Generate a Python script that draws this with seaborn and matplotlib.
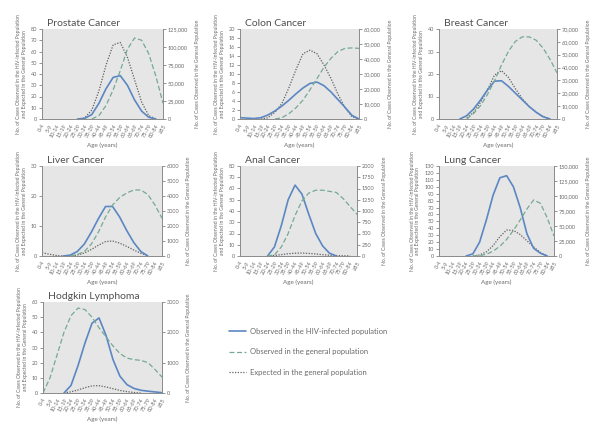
import numpy as np
import pandas as pd
import matplotlib
matplotlib.use("Agg")
import matplotlib.pyplot as plt
import seaborn as sns
from matplotlib.ticker import FuncFormatter, MultipleLocator

sns.set_theme(style="white")
plt.rcParams['font.family'] = ['Lato', 'DejaVu Sans']

age_groups = ["0-4", "5-9", "10-14", "15-19", "20-24", "25-29", "30-34", "35-39",
              "40-44", "45-49", "50-54", "55-59", "60-64", "65-69", "70-74",
              "75-79", "80-84", "\u226585"]
N = np.nan

# Prostate
prostate_hiv = [N, N, N, N, N, 0, 0.5, 4, 14, 27, 37, 38.5, 30, 17, 7, 1.5, 0, N]
prostate_exp = [N, N, N, N, N, 0, 1, 8, 25, 48, 66, 68, 55, 35, 15, 3, 0, N]
prostate_gen = [N, N, N, N, N, N, N, 0, 4700, 18800, 40600, 67200, 96900, 112500,
                109400, 90600, 59400, 21900]
# Colon
colon_hiv = [0.3, 0.2, 0.1, 0.3, 0.9, 1.8, 2.9, 4.2, 5.6, 6.9, 7.9, 8.2, 7.4, 6.0,
             4.3, 2.6, 0.8, 0]
colon_exp = [N, N, N, 0, 0.3, 1.5, 3.5, 7, 11, 14.5, 15.3, 14.5, 12, 9, 5.5, 2.5, 0.5, 0]
colon_gen = [N, N, N, N, N, 0, 900, 3600, 7500, 12600, 19500, 27000, 34500, 40500,
             45000, 47100, 47400, 47100]
# Breast
breast_hiv = [N, N, N, 0, 1.5, 4.5, 8.5, 13, 16.8, 17, 14.5, 11.5, 8.5, 5.5, 3, 1, 0, N]
breast_exp = [N, N, N, N, 0.5, 3, 7.5, 13, 19.5, 21.5, 18.5, 13.5, 9, 5.5, 3, 1, 0, N]
breast_gen = [N, N, N, N, 0, 4375, 10500, 19250, 29750, 42000, 52500, 60375, 63875,
              63875, 61250, 55125, 46375, 35875]
# Liver
liver_hiv = [N, N, N, 0, 0.3, 1.5, 4, 8, 12.5, 16.5, 16.5, 13, 8.5, 4.5, 1.5, 0, N, N]
liver_exp = [1.1, 0.6, 0.2, 0, 0, 0.3, 1, 2.2, 3.6, 4.8, 5, 4.3, 3.2, 2, 0.9, 0.1, N, N]
liver_gen = [N, N, N, N, 0, 100, 300, 800, 1600, 2600, 3400, 3900, 4200, 4400, 4400,
             4100, 3400, 2520]
# Anal
anal_hiv = [N, N, N, N, 0, 8, 27, 50, 63, 55, 37, 20, 9, 2.5, 0, N, N, N]
anal_exp = [N, N, N, N, 0, 0.5, 1.2, 2, 2.5, 2.6, 2.3, 1.8, 1.2, 0.7, 0.4, 0.2, 0.1, N]
anal_gen = [N, N, N, N, 0, 25, 200, 500, 900, 1225, 1400, 1462, 1462, 1437, 1412,
            1275, 1100, 925]
# Lung
lung_hiv = [N, N, N, N, 0, 3, 20, 52, 88, 113, 116, 100, 70, 32, 11, 4, 0, N]
lung_exp = [N, N, N, N, N, 0, 1.5, 6, 15, 28, 37.5, 37, 31, 22, 13, 5, 0, N]
lung_gen = [N, N, N, N, N, 0, 577, 2885, 8077, 16154, 27692, 42692, 60000, 78462,
            93462, 87692, 63462, 33462]
# Hodgkin
hodgkin_hiv = [N, N, N, 0, 5, 18, 33, 46, 49.5, 38, 22, 11, 5.5, 3, 1.8, 1.2, 0.7, 0.2]
hodgkin_exp = [N, N, N, 0, 0.8, 2, 3.5, 4.7, 4.8, 4, 2.8, 1.7, 0.9, 0.3, 0, N, N, N]
hodgkin_gen = [0, 500, 1250, 2000, 2550, 2800, 2750, 2500, 2150, 1850, 1550, 1300,
               1150, 1100, 1075, 1000, 775, 525]

titles = ["Prostate Cancer", "Colon Cancer", "Breast Cancer", "Liver Cancer",
          "Anal Cancer", "Lung Cancer", "Hodgkin Lymphoma"]
hiv_series = [prostate_hiv, colon_hiv, breast_hiv, liver_hiv, anal_hiv, lung_hiv, hodgkin_hiv]
exp_series = [prostate_exp, colon_exp, breast_exp, liver_exp, anal_exp, lung_exp, hodgkin_exp]
gen_series = [prostate_gen, colon_gen, breast_gen, liver_gen, anal_gen, lung_gen, hodgkin_gen]
left_max = [80, 20, 40, 30, 80, 130, 60]
left_step = [10, 2, 10, 10, 10, 10, 10]
right_max = [125000, 60000, 70000, 6000, 2000, 150000, 3000]
right_step = [25000, 10000, 10000, 1000, 250, 25000, 1000]
right_comma = [True, True, True, False, False, True, False]

legend_labels = ["Observed in the HIV-infected population",
                 "Observed in the general population",
                 "Expected in the general population"]

BLUE = "#5b87c2"
GREEN = "#75a993"
DOT = "#606060"
BG = "#e6e6e6"
GRAY = "#8a8a8a"
TXT = "#6a6a6a"

W, H = 600, 425
fig = plt.figure(figsize=(6, 4.25), dpi=100)

# (left, top, right, bottom) in pixels
boxes = [(42, 29, 163, 119), (240, 29, 359, 119), (439, 29, 557, 119),
         (42, 166, 162, 256), (240, 166, 357, 256), (439, 166, 554, 256),
         (43, 302, 162, 393)]

x = np.arange(len(age_groups))
handles = None
for i, (l, t, r, b) in enumerate(boxes):
    ax = fig.add_axes([l / W, 1 - b / H, (r - l) / W, (b - t) / H])
    ax.set_facecolor(BG)
    ax2 = ax.twinx()
    df = pd.DataFrame({"x": x, "hiv": hiv_series[i], "exp": exp_series[i],
                       "gen": gen_series[i]})
    sns.lineplot(data=df, x="x", y="exp", ax=ax, color=DOT, linewidth=0.9,
                 linestyle=(0, (1, 1.2)), label=legend_labels[2], legend=False)
    sns.lineplot(data=df, x="x", y="hiv", ax=ax, color=BLUE, linewidth=1.2,
                 label=legend_labels[0], legend=False)
    sns.lineplot(data=df, x="x", y="gen", ax=ax2, color=GREEN, linewidth=0.9,
                 linestyle=(0, (4, 2)), label=legend_labels[1], legend=False)
    ax.set_xlim(0, len(age_groups) - 1)
    ax.set_ylim(0, left_max[i])
    ax2.set_ylim(0, right_max[i])
    ax.yaxis.set_major_locator(MultipleLocator(left_step[i]))
    ax2.yaxis.set_major_locator(MultipleLocator(right_step[i]))
    if right_comma[i]:
        ax2.yaxis.set_major_formatter(FuncFormatter(lambda v, p: f"{int(v):,}"))
    else:
        ax2.yaxis.set_major_formatter(FuncFormatter(lambda v, p: f"{int(v)}"))
    ax.set_xticks(x)
    ax.set_xticklabels(age_groups, rotation=60, ha="right", rotation_mode="anchor")
    for a in (ax, ax2):
        a.tick_params(axis="both", labelsize=4, colors=TXT, length=2, width=0.5, pad=1.5)
        for s in a.spines.values():
            s.set_color(GRAY)
            s.set_linewidth(0.6)
        a.spines["top"].set_visible(False)
        a.set_xlabel("")
        a.set_ylabel("")
    ax.tick_params(axis="x", length=1.5)
    ax.set_title(titles[i], loc="left", fontsize=7.5, color="#505050", pad=2, x=0.04)
    ax.set_ylabel("No. of Cases Observed in the HIV-Infected Population\n"
                  "and Expected in the General Population",
                  fontsize=3.6, color=TXT, labelpad=3, linespacing=1.1)
    ax2.set_ylabel("No. of Cases Observed in the General Population",
                   fontsize=3.6, color=TXT, labelpad=5)
    ax.set_xlabel("Age (years)", fontsize=4.5, color=TXT, labelpad=3)
    if i == 6:
        h1, l1 = ax.get_legend_handles_labels()
        h2, l2 = ax2.get_legend_handles_labels()
        handles = (h1, l1, h2, l2)

h1, l1, h2, l2 = handles
order_h = [h1[1], h2[0], h1[0]]
order_l = [l1[1], l2[0], l1[0]]
fig.legend(order_h, order_l, loc="upper left", bbox_to_anchor=(222 / W, 1 - 321 / H),
           frameon=False, fontsize=5.5, labelspacing=1.75, handlelength=2.3,
           handletextpad=0.5, labelcolor=TXT)

fig.savefig("out.png", dpi=100, facecolor="white")
